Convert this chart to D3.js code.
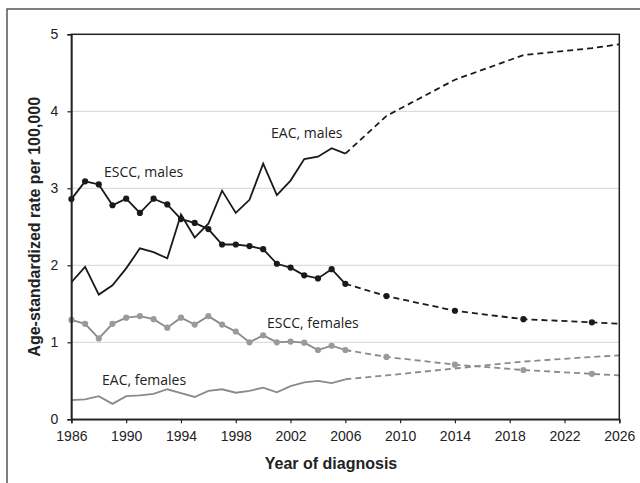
<!DOCTYPE html>
<html>
<head>
<meta charset="utf-8">
<script src="https://cdn.jsdelivr.net/npm/d3@7"></script>
<style>
  body { margin: 0; background: #fff; }
  svg { display: block; }
</style>
</head>
<body>
<svg id="chart" width="640" height="483"></svg>
<script>
// observed years and rates
const years = [1986, 1987, 1988, 1989, 1990, 1991, 1992, 1993, 1994, 1995, 1996,
  1997, 1998, 1999, 2000, 2001, 2002, 2003, 2004, 2005, 2006];
const esccMales = [2.86, 3.09, 3.05, 2.78, 2.865, 2.68, 2.865, 2.79, 2.60, 2.55, 2.47,
  2.27, 2.27, 2.25, 2.21, 2.02, 1.97, 1.87, 1.83, 1.95, 1.76];
const eacMales = [1.78, 1.98, 1.62, 1.74, 1.96, 2.22, 2.17, 2.09, 2.66, 2.36, 2.54,
  2.97, 2.68, 2.85, 3.32, 2.91, 3.10, 3.38, 3.41, 3.52, 3.45];
const esccFemales = [1.29, 1.24, 1.05, 1.24, 1.32, 1.34, 1.30, 1.19, 1.32, 1.23, 1.34,
  1.23, 1.14, 1.00, 1.09, 1.00, 1.01, 0.995, 0.90, 0.955, 0.90];
const eacFemales = [0.25, 0.26, 0.30, 0.20, 0.30, 0.31, 0.33, 0.39, 0.34, 0.29, 0.37,
  0.39, 0.345, 0.37, 0.41, 0.35, 0.43, 0.48, 0.50, 0.47, 0.52];

// projections
const projYears = [2006, 2009, 2014, 2019, 2024, 2026];
const esccMalesProj = [1.76, 1.60, 1.41, 1.30, 1.26, 1.24];
const eacMalesProj = [3.45, 3.94, 4.41, 4.73, 4.82, 4.87];
const esccFemalesProj = [0.90, 0.81, 0.71, 0.64, 0.59, 0.57];
const eacFemalesProj = [0.52, 0.57, 0.66, 0.75, 0.81, 0.83];
const projMarked = [2009, 2014, 2019, 2024];

const xTicks = [1986, 1990, 1994, 1998, 2002, 2006, 2010, 2014, 2018, 2022, 2026];
const yTicks = [0, 1, 2, 3, 4, 5];

const series = [
  { name: "EAC, females", obs: eacFemales, proj: eacFemalesProj, color: "#8a8a8a", dot: "#9a9a9a", markers: false, lx: 102, ly: 385 },
  { name: "ESCC, females", obs: esccFemales, proj: esccFemalesProj, color: "#8a8a8a", dot: "#9a9a9a", markers: true, lx: 267, ly: 328 },
  { name: "EAC, males", obs: eacMales, proj: eacMalesProj, color: "#1a1a1a", dot: "#1a1a1a", markers: false, lx: 271, ly: 138 },
  { name: "ESCC, males", obs: esccMales, proj: esccMalesProj, color: "#1a1a1a", dot: "#1a1a1a", markers: true, lx: 104, ly: 177 }
];

const svg = d3.select("#chart");
const plotL = 71.4, plotR = 619.3, plotT = 34.3, plotB = 419.3;

const x = d3.scaleLinear().domain([1986, 2026]).range([plotL, plotR]);
const y = d3.scaleLinear().domain([0, 5]).range([plotB, plotT]);

// outer border
svg.append("rect")
  .attr("x", 7).attr("y", 9).attr("width", 700).attr("height", 600)
  .attr("fill", "none").attr("stroke", "#555").attr("stroke-width", 1.5);

// grid
svg.append("g")
  .selectAll("line")
  .data(yTicks.filter(d => d > 0 && d < 5))
  .join("line")
  .attr("x1", plotL).attr("x2", plotR)
  .attr("y1", d => y(d)).attr("y2", d => y(d))
  .attr("stroke", "#d4d4d4").attr("stroke-width", 1);

const line = d3.line().x(d => x(d[0])).y(d => y(d[1]));

series.forEach(s => {
  const obsPts = years.map((yr, i) => [yr, s.obs[i]]);
  const projPts = projYears.map((yr, i) => [yr, s.proj[i]]);
  const g = svg.append("g");
  g.append("path").datum(obsPts).attr("d", line)
    .attr("fill", "none").attr("stroke", s.color).attr("stroke-width", 1.8);
  g.append("path").datum(projPts).attr("d", line)
    .attr("fill", "none").attr("stroke", s.color).attr("stroke-width", 1.8)
    .attr("stroke-dasharray", "6,4");
  if (s.markers) {
    const pts = obsPts.concat(projPts.filter(p => projMarked.includes(p[0])));
    g.selectAll("circle").data(pts).join("circle")
      .attr("cx", d => x(d[0])).attr("cy", d => y(d[1]))
      .attr("r", 3.1).attr("fill", s.dot);
  }
  svg.append("text")
    .attr("x", s.lx).attr("y", s.ly)
    .attr("font-family", "'Open Sans', sans-serif")
    .attr("font-size", 14)
    .attr("fill", "#222")
    .text(s.name);
});

// plot frame
svg.append("rect")
  .attr("x", plotL).attr("y", plotT).attr("width", plotR - plotL).attr("height", plotB - plotT)
  .attr("fill", "none").attr("stroke", "#222").attr("stroke-width", 1.5);

// axes
const xAxis = svg.append("g")
  .attr("transform", `translate(0,${plotB})`)
  .call(d3.axisBottom(x).tickValues(xTicks).tickFormat(d3.format("d")).tickSize(4).tickPadding(8));
const yAxis = svg.append("g")
  .attr("transform", `translate(${plotL},0)`)
  .call(d3.axisLeft(y).tickValues(yTicks).tickFormat(d3.format("d")).tickSize(4).tickPadding(9));

[xAxis, yAxis].forEach(a => {
  a.select(".domain").attr("stroke", "#222").attr("stroke-width", 1.5);
  a.selectAll(".tick line").attr("stroke", "#222").attr("stroke-width", 1.2);
  a.selectAll(".tick text")
    .attr("font-family", "'Liberation Sans', Arial, sans-serif")
    .attr("font-size", 14).attr("fill", "#222");
});

svg.append("text")
  .attr("x", 331).attr("y", 469)
  .attr("text-anchor", "middle")
  .attr("font-family", "'Liberation Sans', Arial, sans-serif")
  .attr("font-weight", "bold").attr("font-size", 16).attr("fill", "#222")
  .text("Year of diagnosis");

svg.append("text")
  .attr("transform", `translate(40,${(plotT + plotB) / 2}) rotate(-90)`)
  .attr("text-anchor", "middle")
  .attr("font-family", "'Liberation Sans', Arial, sans-serif")
  .attr("font-weight", "bold").attr("font-size", 16).attr("fill", "#222")
  .text("Age-standardized rate per 100,000");
</script>
</body>
</html>
